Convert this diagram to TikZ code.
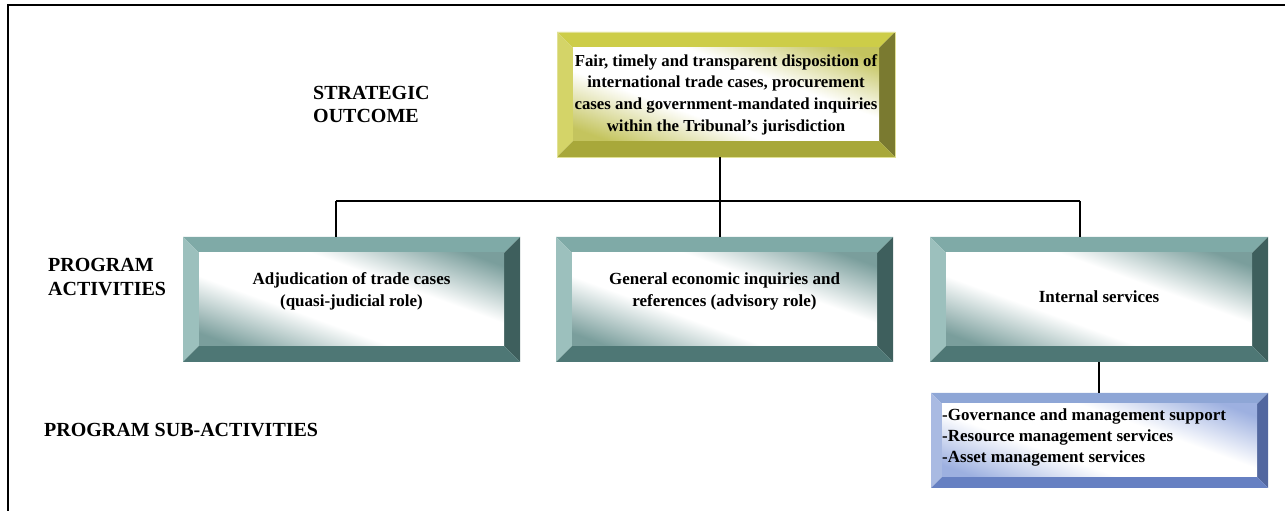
\documentclass[tikz,border=0pt]{standalone}
\usepackage{fontspec}
\setmainfont{Liberation Serif}
\definecolor{ytop}{HTML}{CDCD48}
\definecolor{yleft}{HTML}{D4D468}
\definecolor{yright}{HTML}{7A7A30}
\definecolor{ybot}{HTML}{A8A83A}
\definecolor{ytint}{HTML}{C4C45E}
\definecolor{ttop}{HTML}{7FAAA7}
\definecolor{tleft}{HTML}{9CC0BD}
\definecolor{tright}{HTML}{3E5F5D}
\definecolor{tbot}{HTML}{4E7775}
\definecolor{ttint}{HTML}{7A9E9C}
\definecolor{btop}{HTML}{8EA6D6}
\definecolor{bleft}{HTML}{A9BAE2}
\definecolor{bright}{HTML}{52679F}
\definecolor{bbot}{HTML}{6680C2}
\definecolor{btint}{HTML}{9DB0E0}
\pgfdeclareverticalshading{yshade}{100bp}{color(0bp)=(ytint); color(22bp)=(ytint); color(40bp)=(white); color(60bp)=(white); color(78bp)=(ytint); color(100bp)=(ytint)}
\pgfdeclareverticalshading{tshade}{100bp}{color(0bp)=(ttint); color(22bp)=(ttint); color(40bp)=(white); color(60bp)=(white); color(78bp)=(ttint); color(100bp)=(ttint)}
\pgfdeclareverticalshading{bshade}{100bp}{color(0bp)=(btint); color(22bp)=(btint); color(40bp)=(white); color(60bp)=(white); color(78bp)=(btint); color(100bp)=(btint)}
\begin{document}
\begin{tikzpicture}[x=1pt,y=1pt,
  bevelbox/.style n args={6}{rectangle, inner sep=0pt, align=center,
    path picture={
      \fill[#2] (path picture bounding box.north west) -- (path picture bounding box.north east)
        -- ([xshift=-#1,yshift=-#1]path picture bounding box.north east)
        -- ([xshift=#1,yshift=-#1]path picture bounding box.north west) -- cycle;
      \fill[#3] (path picture bounding box.north west) -- (path picture bounding box.south west)
        -- ([xshift=#1,yshift=#1]path picture bounding box.south west)
        -- ([xshift=#1,yshift=-#1]path picture bounding box.north west) -- cycle;
      \fill[#4] (path picture bounding box.north east) -- (path picture bounding box.south east)
        -- ([xshift=-#1,yshift=#1]path picture bounding box.south east)
        -- ([xshift=-#1,yshift=-#1]path picture bounding box.north east) -- cycle;
      \fill[#5] (path picture bounding box.south west) -- (path picture bounding box.south east)
        -- ([xshift=-#1,yshift=#1]path picture bounding box.south east)
        -- ([xshift=#1,yshift=#1]path picture bounding box.south west) -- cycle;
      \shade[shading=#6, shading angle=-20]
        ([xshift=#1,yshift=#1]path picture bounding box.south west)
        rectangle ([xshift=-#1,yshift=-#1]path picture bounding box.north east);
    }},
  yellowbox/.style={bevelbox={16}{ytop}{yleft}{yright}{ybot}{yshade}, draw=yleft!70!white, line width=0.6pt},
  tealbox/.style={bevelbox={16}{ttop}{tleft}{tright}{tbot}{tshade}, minimum width=337, minimum height=125},
  bluebox/.style={bevelbox={11}{btop}{bleft}{bright}{bbot}{bshade}},
  boxtext/.style={inner sep=0pt, align=center, font=\fontsize{17}{22}\selectfont\bfseries},
  levellabel/.style={inner sep=0pt, anchor=west, align=left, font=\fontsize{20}{24}\selectfont\bfseries},
  conn/.style={line width=1.8pt, black}
]
\useasboundingbox (0,0) rectangle (1285,511);
\draw[line width=2.2pt] (8,0) -- (8,506) -- (1286,506);

% labels
\node[levellabel, font=\fontsize{20}{23}\selectfont\bfseries] (lso) at (313,406.5) {STRATEGIC\\OUTCOME};
\node[levellabel] (lpa) at (48,233.5) {PROGRAM\\ACTIVITIES};
\node[levellabel] (lpsa) at (44,81) {PROGRAM SUB-ACTIVITIES};

% strategic outcome
\node[yellowbox, minimum width=338, minimum height=125,
      font=\fontsize{16.8}{21.6}\selectfont\bfseries] (top) at (726,416.5)
  {Fair, timely and transparent disposition of\\international trade cases, procurement\\cases and government-mandated inquiries\\within the Tribunal’s jurisdiction};

% program activities
\node[tealbox] (a1) at (351.5,211.5) {};
\node[tealbox] (a2) at (724.5,211.5) {};
\node[tealbox, minimum width=338] (a3) at (1099,211.5) {};
\node[boxtext] (a1t) at ([yshift=8]a1.center) {Adjudication of trade cases\\(quasi-judicial role)};
\node[boxtext] (a2t) at ([yshift=8]a2.center) {General economic inquiries and\\references (advisory role)};
\node[boxtext] (a3t) at ([yshift=2.5]a3.center) {Internal services};

% sub-activities
\node[bluebox, minimum width=337, minimum height=95] (sub) at (1099.5,70.5) {};
\node[boxtext, anchor=west, align=left, font=\fontsize{17}{21}\selectfont\bfseries] (subt) at (942,73.5)
  {-Governance and management support\\-Resource management services\\-Asset management services};

% connectors
\coordinate (jt) at (720,310);
\coordinate (jl) at (336,310);
\coordinate (jr) at (1080,310);
\draw[conn] (top.south -| jt) -- (jt);
\draw[conn] (jl) -- (jr);
\draw[conn] (jl) -- (jl |- a1.north);
\draw[conn] (jt) -- (jt |- a2.north);
\draw[conn] (jr) -- (jr |- a3.north);
\draw[conn] (a3.south) -- (a3.south |- sub.north);
\end{tikzpicture}
\end{document}
